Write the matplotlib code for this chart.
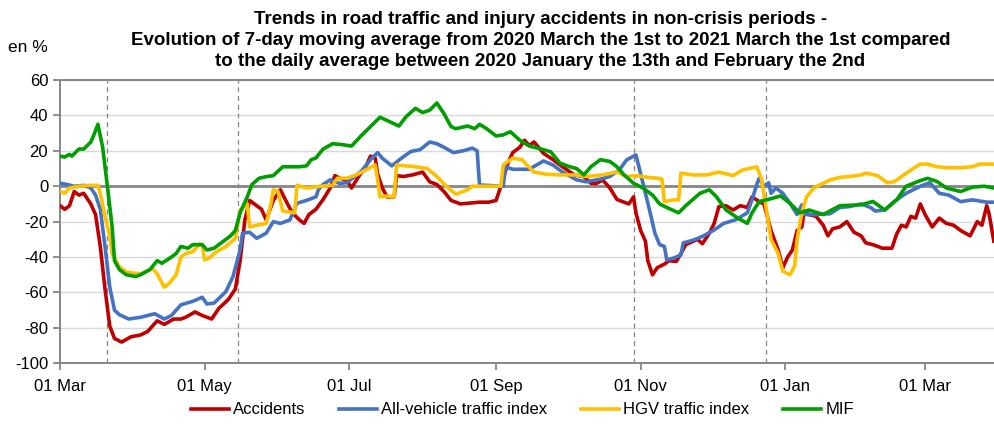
"""
Road traffic and injury accidents in non-crisis periods
7-day moving average, Mar 2020 - Mar 2021, vs. reference period
"""

import matplotlib
matplotlib.use("Agg")
import matplotlib.pyplot as plt
import matplotlib.dates as mdates
import pandas as pd

plt.rcParams["font.family"] = ["Liberation Sans", "DejaVu Sans"]
plt.rcParams["axes.unicode_minus"] = False

# ── Data (days since 2020-03-01, value in %) ─────────────────────
start = pd.Timestamp("2020-03-01")

acc_days = [0, 2, 4, 6, 8, 10, 13, 15, 17, 19,
            21, 23, 26, 30, 34, 37, 41, 44, 48, 51,
            53, 57, 60, 64, 67, 71, 74, 76, 78, 80,
            83, 85, 87, 90, 93, 96, 98, 101, 103, 105,
            108, 111, 114, 116, 118, 121, 123, 126, 129, 131,
            133, 134, 136, 138, 141, 142, 145, 149, 153, 156,
            159, 162, 165, 169, 173, 177, 181, 184, 186, 189,
            191, 194, 196, 198, 200, 204, 208, 212, 217, 221,
            224, 226, 229, 232, 235, 238, 240, 242, 243, 245,
            247, 248, 250, 252, 255, 257, 260, 262, 264, 269,
            271, 274, 276, 278, 281, 284, 287, 290, 292, 295,
            297, 300, 303, 305, 307, 309, 311, 313, 314, 316,
            319, 322, 324, 326, 329, 332, 335, 338, 340, 343,
            347, 351, 353, 355, 357, 359, 361, 363, 365, 368,
            371, 374, 377, 380, 384, 387, 389, 391, 392, 394]
acc_vals = [-11, -13, -11, -3, -5, -4, -10, -16, -34, -58,
            -79, -86, -88, -85, -84, -82, -76, -78, -75, -75,
            -74, -71, -73, -75, -69, -64, -58, -42, -19, -8,
            -11, -13, -19, -8, -2, -10, -15, -19, -21, -16,
            -13, -7.5, -1, 6, 4.5, 3.5, -1, 5.5, 11, 17,
            16, 7, -1, -6, -6, 6, 5.5, 6.5, 8, 2.5,
            1, -3, -8, -10, -9.5, -9, -9, -8, 0, 13,
            19, 22, 26, 23, 25, 18.6, 15, 11, 6.4, 5.5,
            1.7, 1.4, 3.5, -1, -7.5, -9, -10, -6, -15, -25,
            -31, -42, -50, -46, -44, -42, -42.5, -38, -33, -30,
            -32.5, -26.5, -21, -11.5, -11, -13.4, -11, -12, -6, -8.7,
            -10, -25, -36, -46, -40, -36, -25, -23, -14, -16,
            -17, -22, -28, -24, -23, -20, -26, -28, -32, -33,
            -35, -35, -27, -22, -23, -17, -18, -10, -16, -23,
            -18, -21, -22, -25, -28, -20, -22, -11, -15.5, -31]

all_days = [0, 3, 6, 10, 13, 15, 17, 19, 21, 23,
            25, 29, 34, 40, 44, 47, 51, 56, 60, 62,
            65, 70, 73, 76, 77, 80, 83, 87, 90, 93,
            97, 100, 104, 108, 109, 111, 114, 118, 121, 127,
            131, 134, 136, 140, 144, 148, 152, 156, 159, 162,
            166, 170, 174, 176, 177, 187, 188, 191, 198, 204,
            208, 212, 218, 222, 228, 232, 236, 239, 243, 245,
            247, 249, 251, 253, 255, 256, 259, 262, 263, 267,
            271, 276, 280, 285, 290, 292, 294, 295, 297, 299,
            300, 302, 305, 308, 311, 313, 314, 319, 325, 329,
            333, 338, 342, 344, 348, 352, 357, 363, 367, 371,
            375, 380, 385, 391, 394]
all_vals = [1.7, 1, 0, 0.5, -1, -5, -13, -34, -57, -70,
            -72.5, -75, -74, -72, -75, -73, -67, -65, -62.7, -66.5,
            -66, -59.5, -51, -36, -26.5, -26, -29.4, -26.5, -20, -21,
            -19, -9.6, -8, -6, -2, 1, 3.6, 1.6, 2, 8.3,
            15, 19, 15.8, 11.5, 15.8, 19.6, 20.7, 25, 24, 22,
            19, 20, 21.5, 20, 0.7, 0, 11, 9.6, 9.6, 14.3,
            12, 8, 3.6, 2.5, 4, 5.5, 9.2, 14.8, 17.7, 7,
            -4, -15, -26.5, -33, -34, -41.6, -40.5, -38.8, -32, -30.5,
            -28.4, -24.7, -21, -19, -15, -7.5, 1, 4.5, 0, 2,
            -4, -1, -4, -9.6, -16, -10.5, -16, -16, -15.5, -12,
            -11.5, -10, -12, -14, -13.4, -8.6, -4, 0, 2, -4,
            -5, -8.7, -7.7, -9, -9]

hgv_days = [0, 2, 4, 8, 13, 16, 17, 19, 21, 22,
            25, 28, 34, 39, 41, 44, 46, 49, 51, 53,
            56, 59, 60, 61, 63, 66, 70, 74, 76, 79,
            80, 83, 87, 89, 90, 92, 94, 99, 100, 104,
            110, 115, 117, 121, 125, 129, 133, 134, 135, 138,
            141, 142, 146, 150, 155, 159, 163, 167, 172, 174,
            186, 187, 191, 195, 197, 200, 205, 211, 217, 222,
            229, 235, 239, 243, 248, 252, 254, 255, 259, 261,
            262, 267, 273, 278, 284, 288, 294, 296, 298, 300,
            303, 305, 308, 310, 311, 313, 315, 318, 321, 325,
            329, 333, 338, 340, 345, 349, 352, 356, 360, 363,
            366, 370, 374, 380, 385, 388, 394]
hgv_vals = [-3, -4, -1, 0, 0.5, 0.5, -4, -17, -28, -38,
            -45.5, -48.5, -49.5, -46.5, -49.5, -57, -55, -50, -40, -38,
            -37, -32.5, -33, -41.6, -40.5, -37, -34, -29.4, -13.4, -10,
            -23, -22, -21, -10, -2, -3, -14, -15, 0.5, -1,
            0, 0.5, 4.5, 4.5, 6.4, 9.2, 12, 3.6, -6, -5.5,
            -6, 12, 11.5, 11, 10, 5.5, 0, -4.5, -2, 0,
            0, 12, 15.8, 15, 12, 8, 6.8, 6.4, 6.4, 5.5,
            6.4, 8, 5.5, 6, 5, 4.5, 4, -8.7, -7.7, -7.7,
            7.4, 6.4, 6.4, 8, 6, 9.2, 11, 4, -13, -30,
            -38, -48, -50, -45, -30, -15, -6, -1, 1, 3.6,
            5, 5.5, 6.4, 7.4, 6, 2, 2.6, 6.4, 10, 12.5,
            12.5, 11, 10.5, 10.5, 11, 12.5, 12.5]

mif_days = [0, 2, 4, 5, 8, 10, 13, 14, 16, 18,
            20, 22, 23, 25, 28, 32, 34, 38, 41, 43,
            47, 49, 51, 54, 56, 60, 62, 65, 69, 72,
            74, 76, 79, 81, 84, 87, 90, 94, 101, 104,
            106, 108, 111, 115, 119, 123, 127, 131, 135, 139,
            143, 146, 150, 153, 156, 159, 162, 165, 167, 172,
            175, 177, 180, 184, 187, 190, 194, 198, 203, 207,
            211, 215, 218, 221, 224, 228, 232, 235, 238, 242,
            246, 250, 253, 256, 261, 264, 270, 274, 277, 281,
            286, 290, 292, 295, 300, 304, 308, 312, 316, 322,
            329, 338, 343, 348, 353, 357, 362, 366, 370, 374,
            380, 385, 390, 394]
mif_vals = [17, 16.5, 18, 17, 21, 21, 25, 28, 35, 22,
            0, -23, -42, -47, -50, -51, -50, -47, -42, -43.5,
            -40, -38, -34, -35, -33, -33, -36, -35, -31, -28,
            -25, -15, -6, 1, 4.5, 5.4, 6, 11, 11, 11.5,
            15, 16, 21, 24, 23.5, 22.7, 28.4, 33.7, 39, 36.5,
            34, 39.3, 44, 41.6, 43, 47, 41, 33.7, 32.5, 34,
            32.5, 35, 32.5, 28.4, 29, 30.8, 26, 22.7, 21, 19.5,
            13, 11, 10, 6.4, 11, 15, 14, 11, 6.4, 1.7,
            -1, -5, -10, -12, -15, -11, -4, -2, -6, -13.4,
            -18, -21, -15, -8.7, -7, -5.5, -9.6, -15, -13.4, -16,
            -11, -10.5, -8.6, -13.4, -7.7, 0, 2.7, 4.5, 2.7, -1,
            -3, -0.5, 0, -1]

# vertical markers (start / end of lockdowns, as drawn)
marker_dates = ["2020-03-21", "2020-05-15", "2020-10-29", "2020-12-24"]

series = [
    ("Accidents", acc_days, acc_vals, "#C00000"),
    ("All-vehicle traffic index", all_days, all_vals, "#4472C4"),
    ("HGV traffic index", hgv_days, hgv_vals, "#FFC000"),
    ("MIF", mif_days, mif_vals, "#009E00"),
]

# ── Figure ───────────────────────────────────────────────────────
fig = plt.figure(figsize=(9.95, 4.26), dpi=100)
ax = fig.add_axes([60 / 995, 1 - 363.3 / 426, 935 / 995, 283.3 / 426])

grey = "#868686"
ax.set_ylim(-100, 60)
ax.set_yticks(range(-100, 61, 20))
ax.set_xlim(start, start + pd.Timedelta(days=394.5))
ax.yaxis.grid(True, color="#D9D9D9", lw=1.0, zorder=0)
ax.set_axisbelow(True)
ax.axhline(0, color=grey, lw=2.0, zorder=1)

for d in marker_dates:
    ax.axvline(pd.Timestamp(d), color=grey, lw=0.9, ls=(0, (4, 3)), zorder=1)

for i, (name, days, vals, col) in enumerate(series):
    dates = start + pd.to_timedelta(days, unit="D")
    ax.plot(dates, vals, color=col, lw=2.6, label=name, zorder=3 + i,
            solid_joinstyle="round")

# ── Axes styling ─────────────────────────────────────────────────
ax.xaxis.set_major_locator(mdates.MonthLocator(bymonth=[1, 3, 5, 7, 9, 11]))
ax.xaxis.set_major_formatter(mdates.DateFormatter("%d %b"))
ax.tick_params(axis="both", colors="black", labelsize=12)
ax.tick_params(axis="both", color=grey, length=5, width=1.3)
ax.tick_params(axis="x", pad=6)
for side in ["left", "bottom", "top"]:
    ax.spines[side].set_color(grey)
    ax.spines[side].set_linewidth(1.4)
ax.spines["right"].set_visible(False)

# ── Texts ────────────────────────────────────────────────────────
title = ("Trends in road traffic and injury accidents in non-crisis periods -\n"
         "Evolution of 7-day moving average from 2020 March the 1st to 2021 March the 1st compared\n"
         "to the daily average between 2020 January the 13th and February the 2nd")
fig.text(0.543, 1 - 11 / 426, title, ha="center", va="top", fontsize=13.5,
         fontweight="bold", linespacing=1.32)
fig.text(8 / 995, 1 - 47 / 426, "en %", ha="left", va="center", fontsize=12.5)

fig.legend(loc="center", bbox_to_anchor=(0.525, 1 - 410 / 426), ncol=4,
           frameon=False, fontsize=12, handlelength=2.3, handletextpad=0.25,
           columnspacing=2.0)

fig.savefig("out.png", dpi=100, facecolor="white")
plt.close()
